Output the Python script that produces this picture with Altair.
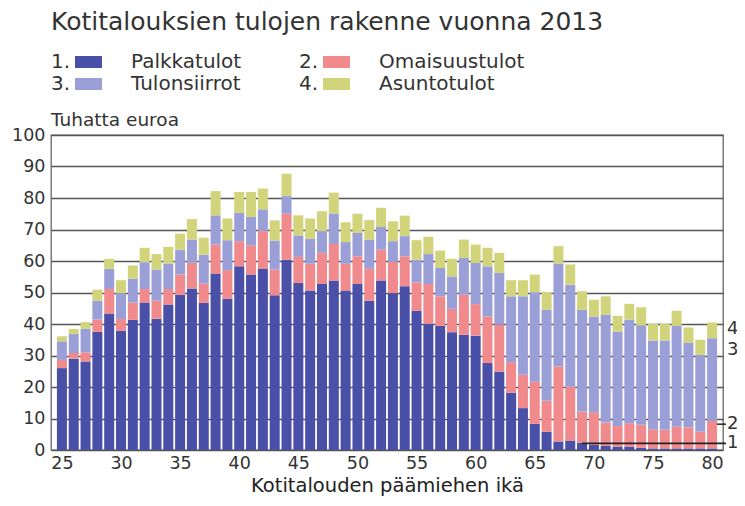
import altair as alt
import pandas as pd

ages = list(range(25, 81))
palkkatulot = [26.0, 29.0, 28.1, 37.5, 43.3, 37.8, 41.3, 46.8, 41.7, 46.2,
               49.3, 51.3, 46.7, 56.0, 48.0, 58.3, 55.7, 57.6, 49.1, 60.4,
               53.0, 50.6, 52.7, 53.8, 50.6, 52.7, 47.4, 53.8, 49.8, 52.0,
               44.2, 40.0, 39.4, 37.4, 36.6, 36.3, 27.6, 24.9, 18.2, 13.3,
               8.3, 5.8, 2.7, 3.0, 2.3, 1.6, 1.3, 1.1, 1.1, 0.7,
               0.5, 0.5, 0.5, 0.5, 0.5, 0.5]
omaisuustulot = [2.6, 1.8, 2.9, 3.9, 7.8, 3.8, 5.5, 4.3, 5.7, 4.9,
                 6.4, 8.1, 6.1, 9.2, 9.1, 8.0, 9.3, 11.9, 8.2, 14.6,
                 8.3, 8.5, 9.9, 11.6, 8.5, 8.8, 10.1, 9.8, 9.9, 9.5,
                 9.0, 12.7, 9.4, 7.4, 12.7, 10.0, 14.8, 14.9, 9.7, 10.6,
                 13.4, 9.8, 23.8, 17.1, 9.9, 10.4, 7.4, 6.5, 7.4, 7.3,
                 6.1, 5.9, 6.9, 6.7, 5.3, 8.7]
tulonsiirrot = [5.9, 6.0, 7.5, 6.0, 6.4, 8.2, 7.6, 8.5, 9.9, 8.1,
                7.9, 7.4, 9.2, 9.3, 9.5, 9.0, 9.0, 6.9, 9.2, 5.6,
                6.8, 8.0, 6.9, 9.7, 6.9, 7.4, 9.3, 7.2, 6.6, 6.4,
                7.2, 9.5, 9.0, 10.3, 11.7, 13.1, 15.9, 16.4, 20.9, 24.9,
                28.4, 28.9, 32.7, 32.4, 32.3, 30.4, 34.2, 30.0, 32.9, 31.6,
                28.2, 28.4, 32.0, 26.9, 24.4, 26.3]
asuntotulot = [1.6, 1.6, 2.1, 3.5, 3.2, 4.1, 4.2, 4.6, 4.9, 5.3,
               5.1, 6.5, 5.4, 7.7, 6.9, 6.6, 7.9, 6.6, 6.4, 7.1,
               6.4, 6.4, 6.3, 6.6, 6.3, 6.1, 6.2, 6.1, 6.3, 6.5,
               6.2, 5.5, 5.5, 5.6, 5.8, 5.8, 5.9, 6.4, 5.1, 5.1,
               5.6, 5.6, 5.5, 6.4, 5.9, 5.3, 5.9, 5.0, 5.0, 5.7,
               5.2, 5.2, 4.8, 4.8, 4.8, 5.0]

series_names = ["Palkkatulot", "Omaisuustulot", "Tulonsiirrot", "Asuntotulot"]
series_nums = ["1.", "2.", "3.", "4."]
series_colors = ["#4a4fa8", "#f08a8d", "#9b9fd8", "#d2d47c"]
x_ticks = list(range(25, 81, 5))
y_ticks = list(range(0, 101, 10))

# right-hand series markers
marker_labels = ["4", "3", "2", "1"]
marker_y = [38.5, 31.8, 8.2, 2.1]
line1_start_age = 69.0

FONT = "DejaVu Sans"
TXT = "#333333"

rows = []
for k, (name, vals) in enumerate(zip(series_names,
                                     [palkkatulot, omaisuustulot, tulonsiirrot, asuntotulot])):
    for a, v in zip(ages, vals):
        rows.append({"ika": a, "sarja": name, "arvo": v, "jarj": k})
df = pd.DataFrame(rows)

W, H = 672, 315

xscale = alt.Scale(domain=[24.5, 80.5], nice=False, zero=False)
yscale = alt.Scale(domain=[0, 100], nice=False)

x_axis = alt.Axis(values=x_ticks, ticks=False, domain=False, grid=False,
                  labelFontSize=17.5, labelColor=TXT, labelFont=FONT,
                  labelPadding=4, labelOverlap=False,
                  title="Kotitalouden päämiehen ikä", titleFont=FONT,
                  titleFontSize=19.5, titleFontWeight="normal",
                  titleColor="#222222", titlePadding=5)
y_axis = alt.Axis(values=y_ticks, ticks=False, domain=False,
                  grid=True, gridColor="#555555", gridWidth=1.3,
                  labelFontSize=17.5, labelColor=TXT, labelFont=FONT,
                  labelPadding=6, labelOverlap=False, title=None)

bars = alt.Chart(df).mark_bar(size=10.0).encode(
    x=alt.X("ika:Q", scale=xscale, axis=x_axis),
    y=alt.Y("arvo:Q", stack="zero", scale=yscale, axis=y_axis),
    color=alt.Color("sarja:N", scale=alt.Scale(domain=series_names, range=series_colors),
                    legend=None),
    order=alt.Order("jarj:Q", sort="ascending"),
)

mk = pd.DataFrame({"lab": marker_labels, "y": marker_y})
marker_text = alt.Chart(mk).mark_text(
    align="left", baseline="middle", fontSize=18, font=FONT, color=TXT
).encode(x=alt.value(W + 4), y=alt.Y("y:Q", scale=yscale, axis=y_axis), text="lab:N")

dash2 = alt.Chart(mk[mk["lab"] == "2"]).mark_rule(color="#222222", strokeWidth=1.5).encode(
    x=alt.value(W - 6), x2=alt.value(W + 3), y=alt.Y("y:Q", scale=yscale, axis=y_axis))

line1 = alt.Chart(pd.DataFrame({"x": [line1_start_age], "y": [marker_y[3]]})).mark_rule(
    color="#222222", strokeWidth=1.8).encode(
    x=alt.X("x:Q", scale=xscale, axis=x_axis), x2=alt.value(W + 3),
    y=alt.Y("y:Q", scale=yscale, axis=y_axis))

layers = [bars, marker_text, dash2, line1]

# title and unit label
layers.append(alt.Chart(pd.DataFrame({"t": ["Kotitalouksien tulojen rakenne vuonna 2013"]}))
              .mark_text(align="left", baseline="alphabetic", fontSize=25, font=FONT, color=TXT)
              .encode(x=alt.value(0), y=alt.value(-105), text="t:N"))
layers.append(alt.Chart(pd.DataFrame({"t": ["Tuhatta euroa"]}))
              .mark_text(align="left", baseline="middle", fontSize=18.5, font=FONT, color=TXT)
              .encode(x=alt.value(0), y=alt.value(-15), text="t:N"))

# custom legend (2 columns x 2 rows)
col_x = [0, 248]
row_y = [-73, -51]
for k, (num, name, colr) in enumerate(zip(series_nums, series_names, series_colors)):
    cx = col_x[k % 2]
    ry = row_y[k // 2]
    d = pd.DataFrame({"num": [num], "name": [name]})
    layers.append(alt.Chart(d).mark_text(align="left", baseline="middle", fontSize=20,
                                         font=FONT, color=TXT)
                  .encode(x=alt.value(cx), y=alt.value(ry), text="num:N"))
    layers.append(alt.Chart(d).mark_rect(color=colr)
                  .encode(x=alt.value(cx + 24), x2=alt.value(cx + 51),
                          y=alt.value(ry - 6), y2=alt.value(ry + 6)))
    layers.append(alt.Chart(d).mark_text(align="left", baseline="middle", fontSize=20,
                                         font=FONT, color=TXT)
                  .encode(x=alt.value(cx + 80), y=alt.value(ry), text="name:N"))

chart = alt.layer(*layers).properties(
    width=W, height=H,
    autosize=alt.AutoSizeParams(type="none"),
    padding={"left": 43, "top": 127, "right": 14, "bottom": 56},
    background="white",
).configure_view(stroke="#666666", strokeWidth=1.3)

chart.save("out.html", embed_options={"renderer": "svg", "actions": False})
